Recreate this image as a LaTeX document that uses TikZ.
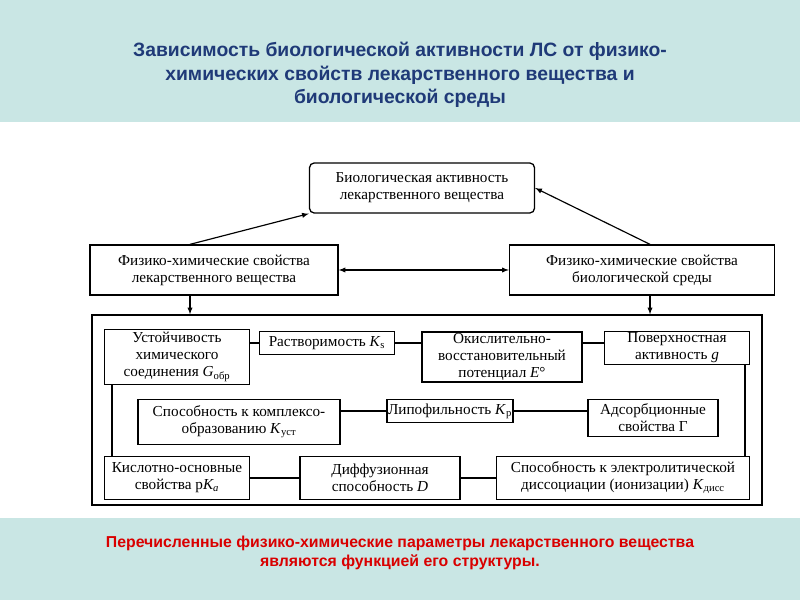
\documentclass[tikz,border=0pt]{standalone}
\usepackage{fontspec}
\setmainfont{Liberation Serif}
\newfontfamily\hd{Liberation Sans}
\definecolor{band}{HTML}{C9E6E4}
\definecolor{ttl}{HTML}{1F3A78}
\newcommand{\vs}[2]{\textit{#1}\textsubscript{#2}}
\begin{document}
\begin{tikzpicture}[x=0.03cm,y=-0.03cm,
 bx/.style={draw,line width=1.1pt,align=center,inner sep=1pt,font=\fontsize{13}{14.5}\selectfont},
 ln/.style={line width=1pt},
 ar/.style={line width=1pt,-latex}]
\useasboundingbox (0,0) rectangle (800,600);
\fill[band] (0,0) rectangle (800,122);
\fill[band] (0,518) rectangle (800,600);
\node[align=center,text=ttl,font=\hd\bfseries\fontsize{16.5}{20}\selectfont] (t) at (400,75) {Зависимость биологической активности ЛС от физико-\\химических свойств лекарственного вещества и\\биологической среды};
\node[align=center,text=red!85!black,font=\hd\bfseries\fontsize{13.5}{16}\selectfont] (b) at (400,553) {Перечисленные физико-химические параметры лекарственного вещества\\являются функцией его структуры.};
% boxes
\node[bx,rounded corners=4pt,minimum width=225*0.03cm,minimum height=50*0.03cm] (bio) at (422,188) {Биологическая активность\\лекарственного вещества};
\node[bx,minimum width=248*0.03cm,minimum height=50*0.03cm] (L) at (214,270) {Физико-химические свойства\\лекарственного вещества};
\node[bx,minimum width=265*0.03cm,minimum height=50*0.03cm] (R) at (642,270) {Физико-химические свойства\\биологической среды};
\node[draw,line width=1.1pt,minimum width=670*0.03cm,minimum height=190*0.03cm] (F) at (427,410) {};
\node[bx,minimum width=145*0.03cm,minimum height=55*0.03cm] (u) at (177,357) {Устойчивость\\химического\\соединения \vs{G}{обр}};
\node[bx,minimum width=135*0.03cm,minimum height=23*0.03cm] (r) at (327,343) {Растворимость \vs{K}{s}};
\node[bx,minimum width=160*0.03cm,minimum height=50*0.03cm] (o) at (502,357) {Окислительно-\\восстановительный\\потенциал \textit{E}°};
\node[bx,minimum width=145*0.03cm,minimum height=33*0.03cm] (p) at (677,348) {Поверхностная\\активность \textit{g}};
\node[bx,minimum width=202*0.03cm,minimum height=45*0.03cm] (k) at (239,422) {Способность к комплексо-\\образованию \vs{K}{уст}};
\node[bx,minimum width=125*0.03cm,minimum height=23*0.03cm] (lp) at (450,411) {Липофильность \vs{K}{р}};
\node[bx,minimum width=130*0.03cm,minimum height=37*0.03cm] (ad) at (653,418) {Адсорбционные\\свойства Г};
\node[bx,minimum width=145*0.03cm,minimum height=43*0.03cm] (ki) at (177,478) {Кислотно-основные\\свойства р\textit{K\textsubscript{a}}};
\node[bx,minimum width=160*0.03cm,minimum height=43*0.03cm] (d) at (380,478) {Диффузионная\\способность \textit{D}};
\node[bx,minimum width=253*0.03cm,minimum height=43*0.03cm] (e) at (623,478) {Способность к электролитической\\диссоциации (ионизации) \vs{K}{дисс}};
% connectors
\draw[ln] (u.east|-r) -- (r);
\draw[ln] (r) -- (o.west|-r);
\draw[ln] (o.east|-r) -- (p.west|-r);
\draw[ln] (k.east|-lp) -- (lp);
\draw[ln] (lp) -- (ad.west|-lp);
\draw[ln] (ki) -- (d);
\draw[ln] (d) -- (e);
\coordinate (u1) at (112,385);
\draw[ln] (u.south-|u1) -- (ki.north-|u1);
\coordinate (p1) at (745,365);
\draw[ln] (p.south-|p1) -- (e.north-|p1);
\coordinate (la) at (190,245); \coordinate (ra) at (650,245);
\draw[ar] (L.north-|la) -- (bio.south west);
\draw[ar] (R.north-|ra) -- (bio.east);
\draw[latex-latex,line width=1pt] (L) -- (R);
\draw[ar] (L.south-|la) -- (F.north-|la);
\draw[ar] (R.south-|ra) -- (F.north-|ra);
\end{tikzpicture}
\end{document}
